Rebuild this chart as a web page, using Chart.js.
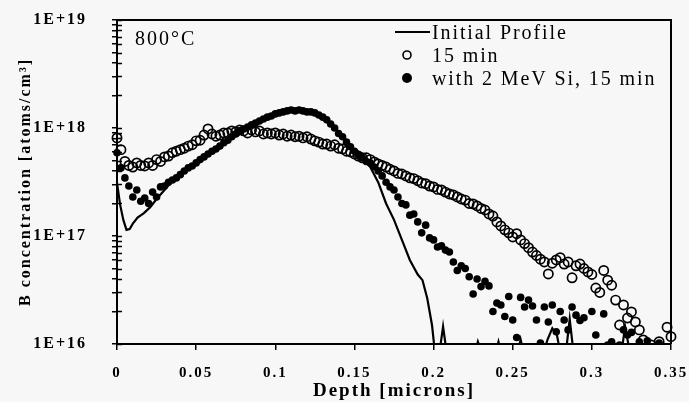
<!DOCTYPE html>
<html>
<head>
<meta charset="utf-8">
<script src="https://cdn.jsdelivr.net/npm/chart.js@4.4.1/dist/chart.umd.min.js"></script>
<style>
  html, body { margin: 0; padding: 0; background: #f7f7f7; }
  canvas { display: block; }
</style>
</head>
<body>
<canvas id="borChart" width="689" height="402"></canvas>
<script>
// depth of each SIMS point, microns
const depth = [
  0, 0.0025, 0.005, 0.0075, 0.01, 0.0125, 0.015, 0.0175, 0.02, 0.0225,
  0.025, 0.0275, 0.03, 0.0325, 0.035, 0.0375, 0.04, 0.0425, 0.045, 0.0475,
  0.05, 0.0525, 0.055, 0.0575, 0.06, 0.0625, 0.065, 0.0675, 0.07, 0.0725,
  0.075, 0.0775, 0.08, 0.0825, 0.085, 0.0875, 0.09, 0.0925, 0.095, 0.0975,
  0.1, 0.1025, 0.105, 0.1075, 0.11, 0.1125, 0.115, 0.1175, 0.12, 0.1225,
  0.125, 0.1275, 0.13, 0.1325, 0.135, 0.1375, 0.14, 0.1425, 0.145, 0.1475,
  0.15, 0.1525, 0.155, 0.1575, 0.16, 0.1625, 0.165, 0.1675, 0.17, 0.1725,
  0.175, 0.1775, 0.18, 0.1825, 0.185, 0.1875, 0.19, 0.1925, 0.195, 0.1975,
  0.2, 0.2025, 0.205, 0.2075, 0.21, 0.2125, 0.215, 0.2175, 0.22, 0.2225,
  0.225, 0.2275, 0.23, 0.2325, 0.235, 0.2375, 0.24, 0.2425, 0.245, 0.2475,
  0.25, 0.2525, 0.255, 0.2575, 0.26, 0.2625, 0.265, 0.2675, 0.27, 0.2725,
  0.275, 0.2775, 0.28, 0.2825, 0.285, 0.2875, 0.29, 0.2925, 0.295, 0.2975,
  0.3, 0.3025, 0.305, 0.3075, 0.31, 0.3125, 0.315, 0.3175, 0.32, 0.3225,
  0.325, 0.3275, 0.33, 0.3325, 0.335, 0.3375, 0.34, 0.3425, 0.345, 0.3475,
  0.35
];

// B concentration after 15 min anneal (open circles)
const conc15min = [
  8.1e17, 6.3e17, 4.9e17, 4.5e17, 4.35e17, 4.75e17, 4.5e17, 4.45e17, 4.75e17, 4.5e17,
  5.1e17, 4.9e17, 5.4e17, 5.5e17, 5.9e17, 6.1e17, 6.3e17, 6.5e17, 6.8e17, 7.0e17,
  7.6e17, 7.7e17, 8.6e17, 9.8e17, 8.8e17, 8.4e17, 8.6e17, 9.0e17, 9.0e17, 9.4e17,
  9.2e17, 9.6e17, 9.4e17, 9.0e17, 9.6e17, 9.2e17, 9.4e17, 8.8e17, 9.0e17, 8.8e17,
  9.0e17, 8.6e17, 8.8e17, 8.4e17, 8.6e17, 8.3e17, 8.4e17, 8.1e17, 8.3e17, 7.9e17,
  7.6e17, 7.4e17, 7.1e17, 7.1e17, 6.8e17, 7.0e17, 6.5e17, 6.4e17, 6.1e17, 6.0e17,
  5.75e17, 5.5e17, 5.3e17, 5.3e17, 5.1e17, 4.85e17, 4.65e17, 4.5e17, 4.35e17, 4.15e17,
  4.0e17, 3.8e17, 3.75e17, 3.6e17, 3.45e17, 3.4e17, 3.25e17, 3.1e17, 3.05e17, 2.9e17,
  2.85e17, 2.7e17, 2.67e17, 2.55e17, 2.45e17, 2.4e17, 2.3e17, 2.2e17, 2.15e17, 2.0e17,
  1.98e17, 1.9e17, 1.8e17, 1.74e17, 1.6e17, 1.53e17, 1.35e17, 1.24e17, 1.14e17, 1.07e17,
  9.8e16, 1.05e17, 9.2e16, 8.5e16, 7.8e16, 7.1e16, 6.6e16, 6.1e16, 5.75e16, 4.45e16,
  5.6e16, 6.0e16, 6.3e16, 5.5e16, 5.75e16, 4.1e16, 5.3e16, 5.5e16, 5.0e16, 4.65e16,
  4.4e16, 3.3e16, 3.0e16, 4.8e16, 3.9e16, 3.5e16, 2.55e16, 1.5e16, 2.3e16, 1.74e16,
  1.98e16, 1.6e16, 1.35e16, 1.09e16, 9.0e15, 9.8e15, 8.5e15, 1.05e16, 8.5e15, 1.43e16,
  1.17e16
];

// B concentration with 2 MeV Si, 15 min (filled dots)
const concSi15min = [
  5.9e17, 4.27e17, 3.45e17, 2.9e17, 2.3e17, 2.67e17, 2.1e17, 2.25e17, 2.0e17, 2.55e17,
  2.3e17, 2.85e17, 2.9e17, 3.15e17, 3.3e17, 3.45e17, 3.7e17, 4.0e17, 4.27e17, 4.45e17,
  4.75e17, 5.1e17, 5.4e17, 5.75e17, 6.1e17, 6.4e17, 6.8e17, 7.3e17, 7.7e17, 8.3e17,
  8.8e17, 9.4e17, 9.8e17, 1.02e18, 1.07e18, 1.11e18, 1.16e18, 1.21e18, 1.26e18, 1.29e18,
  1.35e18, 1.38e18, 1.41e18, 1.44e18, 1.47e18, 1.44e18, 1.47e18, 1.44e18, 1.41e18, 1.41e18,
  1.38e18, 1.32e18, 1.26e18, 1.19e18, 1.09e18, 1.0e18, 8.9e17, 8.3e17, 7.4e17, 6.7e17,
  6.1e17, 5.6e17, 5.3e17, 4.9e17, 4.75e17, 4.35e17, 4.0e17, 3.6e17, 3.15e17, 2.85e17,
  2.67e17, 2.3e17, 2.0e17, 1.94e17, 1.56e17, 1.6e17, 1.35e17, 1.07e17, 1.26e17, 9.6e16,
  9.2e16, 7.9e16, 8.1e16, 7.4e16, 7.1e16, 5.75e16, 4.8e16, 5.3e16, 5.0e16, 4.2e16,
  2.9e16, 4.0e16, 3.4e16, 3.8e16, 3.45e16, 2.0e16, 2.4e16, 2.3e16, 1.8e16, 2.75e16,
  1.67e16, 1.15e16, 2.7e16, 2.2e16, 2.55e16, 2.25e16, 1.67e16, 1.02e16, 2.2e16, 1.6e16,
  2.3e16, 1.3e16, 2.0e16, 1.67e16, 1.35e16, 2.2e16, 1.85e16, 1.65e16, 1.75e16, 8.5e15,
  2.0e16, 1.21e16, 8.5e15, 1.9e16, 9.8e15, 1.05e16, 7.9e15, 9.8e15, 1.35e16, 1.21e16,
  1.28e16, 7.9e15, 1.05e16, 8.5e15, 1.07e16, 7.1e15, 8.4e15, 1.02e16, 7.9e15, 7.1e15,
  8.5e15
];

// as-implanted profile (solid line)
const initialDepth = [
  0, 0.002, 0.004, 0.006, 0.008, 0.010, 0.013, 0.017, 0.021, 0.025,
  0.030, 0.035, 0.040, 0.045, 0.050, 0.055, 0.060, 0.065, 0.070, 0.075,
  0.080, 0.085, 0.090, 0.095, 0.100, 0.105, 0.110, 0.115, 0.120, 0.125,
  0.130, 0.135, 0.140, 0.145, 0.150, 0.155, 0.160, 0.165, 0.170, 0.175,
  0.180, 0.185, 0.190, 0.193, 0.196, 0.199, 0.201, 0.203, 0.206, 0.209,
  0.225, 0.228, 0.232, 0.238, 0.241, 0.244, 0.252, 0.255, 0.258, 0.268,
  0.272, 0.275, 0.278, 0.281, 0.283, 0.286, 0.289, 0.318, 0.321, 0.325,
  0.330, 0.333, 0.350
];
const initialConc = [
  3.1e17, 1.94e17, 1.41e17, 1.14e17, 1.16e17, 1.3e17, 1.48e17, 1.63e17, 1.85e17, 2.2e17,
  2.67e17, 3.25e17, 3.75e17, 4.35e17, 4.85e17, 5.4e17, 6.1e17, 7.0e17, 7.9e17, 8.9e17,
  1.0e18, 1.09e18, 1.19e18, 1.26e18, 1.35e18, 1.41e18, 1.44e18, 1.44e18, 1.41e18, 1.35e18,
  1.23e18, 1.09e18, 9.2e17, 7.6e17, 6.3e17, 5.3e17, 4.35e17, 3.15e17, 2.0e17, 1.41e17,
  9.2e16, 6.0e16, 4.4e16, 3.9e16, 2.65e16, 1.5e16, 8e15, 7e15, 1.45e16, 7e15,
  7e15, 1.05e16, 7e15, 7e15, 1.05e16, 7e15, 7e15, 1.1e16, 7e15, 7e15,
  1.1e16, 1.4e16, 1.2e16, 7e15, 7e15, 1.7e16, 7e15, 7e15, 1.45e16, 7e15,
  1.05e16, 7e15, 7e15
];

const seriesLabels = ['Initial Profile', '15 min', 'with 2 MeV Si, 15 min'];
const xTickValues = [0, 0.05, 0.1, 0.15, 0.2, 0.25, 0.3, 0.35];
const xTickLabels = ['0', '0.05', '0.1', '0.15', '0.2', '0.25', '0.3', '0.35'];
const yTickValues = [1e16, 1e17, 1e18, 1e19];
const yTickLabels = ['1E+16', '1E+17', '1E+18', '1E+19'];

const serif = '"Liberation Serif", "Times New Roman", serif';

function pairs(xs, ys) {
  return xs.map((x, i) => ({ x: x, y: ys[i] }));
}

// spaced-out text like the scanned original
const spacing = {
  id: 'spacing',
  beforeDraw(chart) { chart.ctx.letterSpacing = '2px'; },
  afterDraw(chart) { chart.ctx.letterSpacing = '0px'; }
};

// box round the plot + inner halves of the y ticks
const frame = {
  id: 'frame',
  afterDraw(chart) {
    const { ctx, chartArea: a } = chart;
    const y = chart.scales.y;
    ctx.save();
    ctx.strokeStyle = '#000';
    ctx.lineWidth = 2;
    ctx.beginPath();
    ctx.moveTo(a.left, a.top);
    ctx.lineTo(a.right, a.top);
    ctx.lineTo(a.right, a.bottom);
    ctx.stroke();
    ctx.lineWidth = 1.5;
    y.ticks.forEach(t => {
      const py = Math.round(y.getPixelForValue(t.value)) + 0.5;
      ctx.beginPath();
      ctx.moveTo(a.left, py);
      ctx.lineTo(a.left + 5, py);
      ctx.stroke();
    });
    ctx.restore();
  }
};

// legend and temperature note inside the plot
const notes = {
  id: 'notes',
  afterDraw(chart) {
    const ctx = chart.ctx;
    ctx.save();
    ctx.fillStyle = '#000';
    ctx.strokeStyle = '#000';
    ctx.textBaseline = 'alphabetic';
    ctx.font = '20px ' + serif;
    ctx.letterSpacing = '2px';
    ctx.fillText('800\u00B0C', 135, 45);

    ctx.letterSpacing = '1.9px';
    ctx.lineWidth = 2;
    ctx.beginPath();
    ctx.moveTo(395, 32);
    ctx.lineTo(430, 32);
    ctx.stroke();
    ctx.fillText(seriesLabels[0], 432, 39);

    ctx.lineWidth = 1.6;
    ctx.beginPath();
    ctx.arc(407, 55, 4, 0, Math.PI * 2);
    ctx.stroke();
    ctx.fillText(seriesLabels[1], 432, 62);

    ctx.beginPath();
    ctx.arc(407, 78, 5, 0, Math.PI * 2);
    ctx.fill();
    ctx.fillText(seriesLabels[2], 432, 85);
    ctx.restore();
  }
};

Chart.defaults.font.family = serif;
Chart.defaults.color = '#000';

new Chart(document.getElementById('borChart'), {
  type: 'scatter',
  data: {
    datasets: [
      {
        label: seriesLabels[2],
        data: pairs(depth, concSi15min),
        order: 0,
        pointStyle: 'circle',
        pointRadius: 3.8,
        pointBorderWidth: 0,
        pointBackgroundColor: '#000',
        clip: { left: 6, right: 6, top: 0, bottom: 0 }
      },
      {
        label: seriesLabels[1],
        data: pairs(depth, conc15min),
        order: 1,
        pointStyle: 'circle',
        pointRadius: 4.6,
        pointBorderWidth: 1.7,
        pointBorderColor: '#000',
        pointBackgroundColor: 'rgba(0,0,0,0)',
        clip: { left: 6, right: 6, top: 0, bottom: 0 }
      },
      {
        label: seriesLabels[0],
        data: pairs(initialDepth, initialConc),
        order: 2,
        showLine: true,
        borderColor: '#000',
        borderWidth: 2.2,
        pointRadius: 0,
        tension: 0
      }
    ]
  },
  options: {
    responsive: false,
    animation: false,
    layout: { padding: { left: 0, right: 18, top: 20, bottom: 0 } },
    plugins: {
      legend: { display: false },
      tooltip: { enabled: false }
    },
    scales: {
      x: {
        type: 'linear',
        min: 0,
        max: 0.35,
        afterBuildTicks(s) { s.ticks = xTickValues.map(v => ({ value: v })); },
        afterFit(s) { s.height = 58; s.paddingLeft = 0; s.paddingRight = 0; },
        ticks: {
          autoSkip: false,
          maxRotation: 0,
          padding: 14,
          font: { size: 15, weight: 'bold' },
          callback: (v, i) => xTickLabels[i]
        },
        grid: { drawOnChartArea: false, tickLength: 6, color: '#000', lineWidth: 1.5 },
        border: { color: '#000', width: 2 },
        title: {
          display: true,
          text: 'Depth [microns]',
          font: { size: 19, weight: 'bold' },
          padding: { top: 0, bottom: 0 }
        }
      },
      y: {
        type: 'logarithmic',
        min: 1e16,
        max: 1e19,
        afterBuildTicks(s) {
          s.ticks = s.ticks.filter(t => {
            const m = t.value / Math.pow(10, Math.floor(Math.log10(t.value) + 1e-9));
            return Math.abs(m - Math.round(m)) < 1e-6;
          });
        },
        afterFit(s) { s.width = 117; s.paddingTop = 0; s.paddingBottom = 0; },
        ticks: {
          autoSkip: false,
          padding: 25,
          font: { size: 16, weight: 'bold' },
          callback: v => {
            const k = yTickValues.findIndex(t => Math.abs(v / t - 1) < 1e-6);
            return k >= 0 ? yTickLabels[k] : '';
          }
        },
        grid: { drawOnChartArea: false, tickLength: 5, color: '#000', lineWidth: 1.5 },
        border: { color: '#000', width: 2 },
        title: {
          display: true,
          text: 'B concentration [atoms/cm\u00B3]',
          font: { size: 16, weight: 'bold' },
          padding: { top: 16, bottom: 0 }
        }
      }
    }
  },
  plugins: [spacing, frame, notes]
});
</script>
</body>
</html>
